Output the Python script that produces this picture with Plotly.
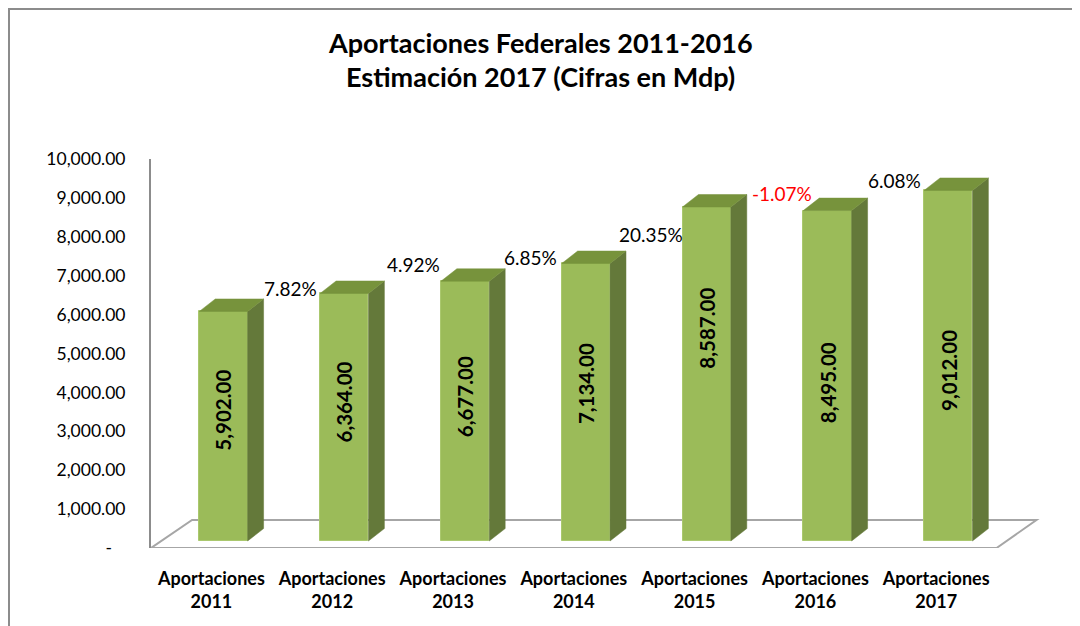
import plotly.graph_objects as go

# ---------------- data ----------------
categories = ["Aportaciones<br>2011", "Aportaciones<br>2012", "Aportaciones<br>2013",
              "Aportaciones<br>2014", "Aportaciones<br>2015", "Aportaciones<br>2016",
              "Aportaciones<br>2017"]
values = [5902.00, 6364.00, 6677.00, 7134.00, 8587.00, 8495.00, 9012.00]
growth_pct = [None, 7.82, 4.92, 6.85, 20.35, -1.07, 6.08]
ytick_vals = [0, 1000, 2000, 3000, 4000, 5000, 6000, 7000, 8000, 9000, 10000]
ytick_text = ["-\u00a0\u00a0\u00a0", "1,000.00", "2,000.00", "3,000.00", "4,000.00", "5,000.00",
              "6,000.00", "7,000.00", "8,000.00", "9,000.00", "10,000.00"]

# label nudges (pixels)
value_label_yshift = [16, 15, 14, 19, 46, -7, -5]
pct_label_yshift = [0, 5, 17, 6, -28, 17, 10]
pct_label_xshift = [0, -1, 1, -3, 2, 11, -1]

# ---------------- geometry / style ----------------
OFF = 8                      # page body margin of the html page
W, H = 1080 - OFF, 626 - OFF
ML, MR, MT, MB = 151 - OFF, 23, 159 - OFF, 78
PW, PH = W - ML - MR, H - MT - MB
XR = [-0.5, 7.0]
YR = [0, 10000]
BASE = 180          # front-face floor level (value units)
BAR_W = 0.4
SHIFT = 0.1
DX, DY = 0.132, 320  # 3D depth offset
FRONT, SIDE, TOP = "#9bbb59", "#64793a", "#77933c"
FONT = "Lato"

def xp(px):  # screen px -> paper
    return (px - OFF - ML) / PW

def yp(py):
    return (H - MB - (py - OFF)) / PH

n = len(values)
xc = [i + SHIFT for i in range(n)]
tops = [BASE + v for v in values]

fig = go.Figure()

# side faces
sx, sy = [], []
for i in range(n):
    xr = xc[i] + BAR_W / 2
    sx += [xr, xr + DX, xr + DX, xr, xr, None]
    sy += [BASE, BASE + DY, tops[i] + DY, tops[i], BASE, None]
fig.add_trace(go.Scatter(x=sx, y=sy, mode="lines", fill="toself", fillcolor=SIDE,
                         line=dict(color=SIDE, width=0.5), hoverinfo="skip", showlegend=False))

# top faces
tx, ty = [], []
for i in range(n):
    xl = xc[i] - BAR_W / 2
    xr = xc[i] + BAR_W / 2
    tx += [xl, xl + DX, xr + DX, xr, xl, None]
    ty += [tops[i], tops[i] + DY, tops[i] + DY, tops[i], tops[i], None]
fig.add_trace(go.Scatter(x=tx, y=ty, mode="lines", fill="toself", fillcolor=TOP,
                         line=dict(color=TOP, width=0.5), hoverinfo="skip", showlegend=False))

# front faces
fig.add_trace(go.Bar(x=xc, y=values, base=[BASE] * n, width=BAR_W,
                     marker=dict(color=FRONT, line=dict(color="#aac86e", width=1)),
                     showlegend=False, hoverinfo="skip"))

annotations = []
# value labels (rotated)
for i, v in enumerate(values):
    annotations.append(dict(x=xc[i], y=BASE + v / 2, xref="x", yref="y",
                            text=f"<b>{v:,.2f}</b>", textangle=-90, showarrow=False,
                            yshift=value_label_yshift[i],
                            font=dict(family=FONT, size=20.5, color="#000000")))
# growth labels
for i, p in enumerate(growth_pct):
    if p is None:
        continue
    annotations.append(dict(x=xc[i] - BAR_W / 2, y=tops[i], xref="x", yref="y",
                            text=f"{p:.2f}%", showarrow=False, xanchor="right", yanchor="middle",
                            xshift=pct_label_xshift[i], yshift=pct_label_yshift[i],
                            font=dict(family=FONT, size=19,
                                      color="#ff0000" if p < 0 else "#000000")))
# title
annotations.append(dict(x=xp(540), y=yp(42), xref="paper", yref="paper",
                        text="<b>Aportaciones Federales 2011-2016</b>", showarrow=False,
                        xanchor="center", yanchor="middle",
                        font=dict(family=FONT, size=27, color="#000000")))
annotations.append(dict(x=xp(540), y=yp(77), xref="paper", yref="paper",
                        text="<b>Estimación 2017 (Cifras en Mdp)</b>", showarrow=False,
                        xanchor="center", yanchor="middle",
                        font=dict(family=FONT, size=27, color="#000000")))

shapes = [
    # floor
    dict(type="path", xref="x", yref="y", layer="below",
         path=f"M -0.5 0 L 6.5 0 L {6.5 + 0.33} 720 L {-0.5 + 0.34} 720 Z",
         line=dict(color="#a6a6a6", width=2), fillcolor="rgba(0,0,0,0)"),
    # chart border
    dict(type="rect", xref="paper", yref="paper", layer="below",
         x0=xp(OFF + 1), x1=xp(1300), y0=yp(900), y1=yp(OFF + 1),
         line=dict(color="#8c8c8c", width=2), fillcolor="rgba(0,0,0,0)"),
]

fig.update_layout(
    width=W, height=H,
    margin=dict(l=ML, r=MR, t=MT, b=MB, pad=0),
    paper_bgcolor="white", plot_bgcolor="white",
    annotations=annotations, shapes=shapes,
    bargap=0,
    xaxis=dict(range=XR, tickmode="array", tickvals=list(range(n)), ticktext=categories,
               showline=False, showgrid=False, zeroline=False, ticks="outside", ticklen=14,
               tickcolor="rgba(0,0,0,0)",
               tickfont=dict(family=FONT, size=18, color="#000000", weight="bold")),
    yaxis=dict(range=YR, tickmode="array", tickvals=ytick_vals, ticktext=ytick_text,
               showline=True, linecolor="#8c8c8c", linewidth=2, showgrid=False,
               zeroline=False, ticks="outside", ticklen=20, tickcolor="rgba(0,0,0,0)",
               tickfont=dict(family=FONT, size=17.5, color="#000000")),
)

fig.write_html("out.html")
